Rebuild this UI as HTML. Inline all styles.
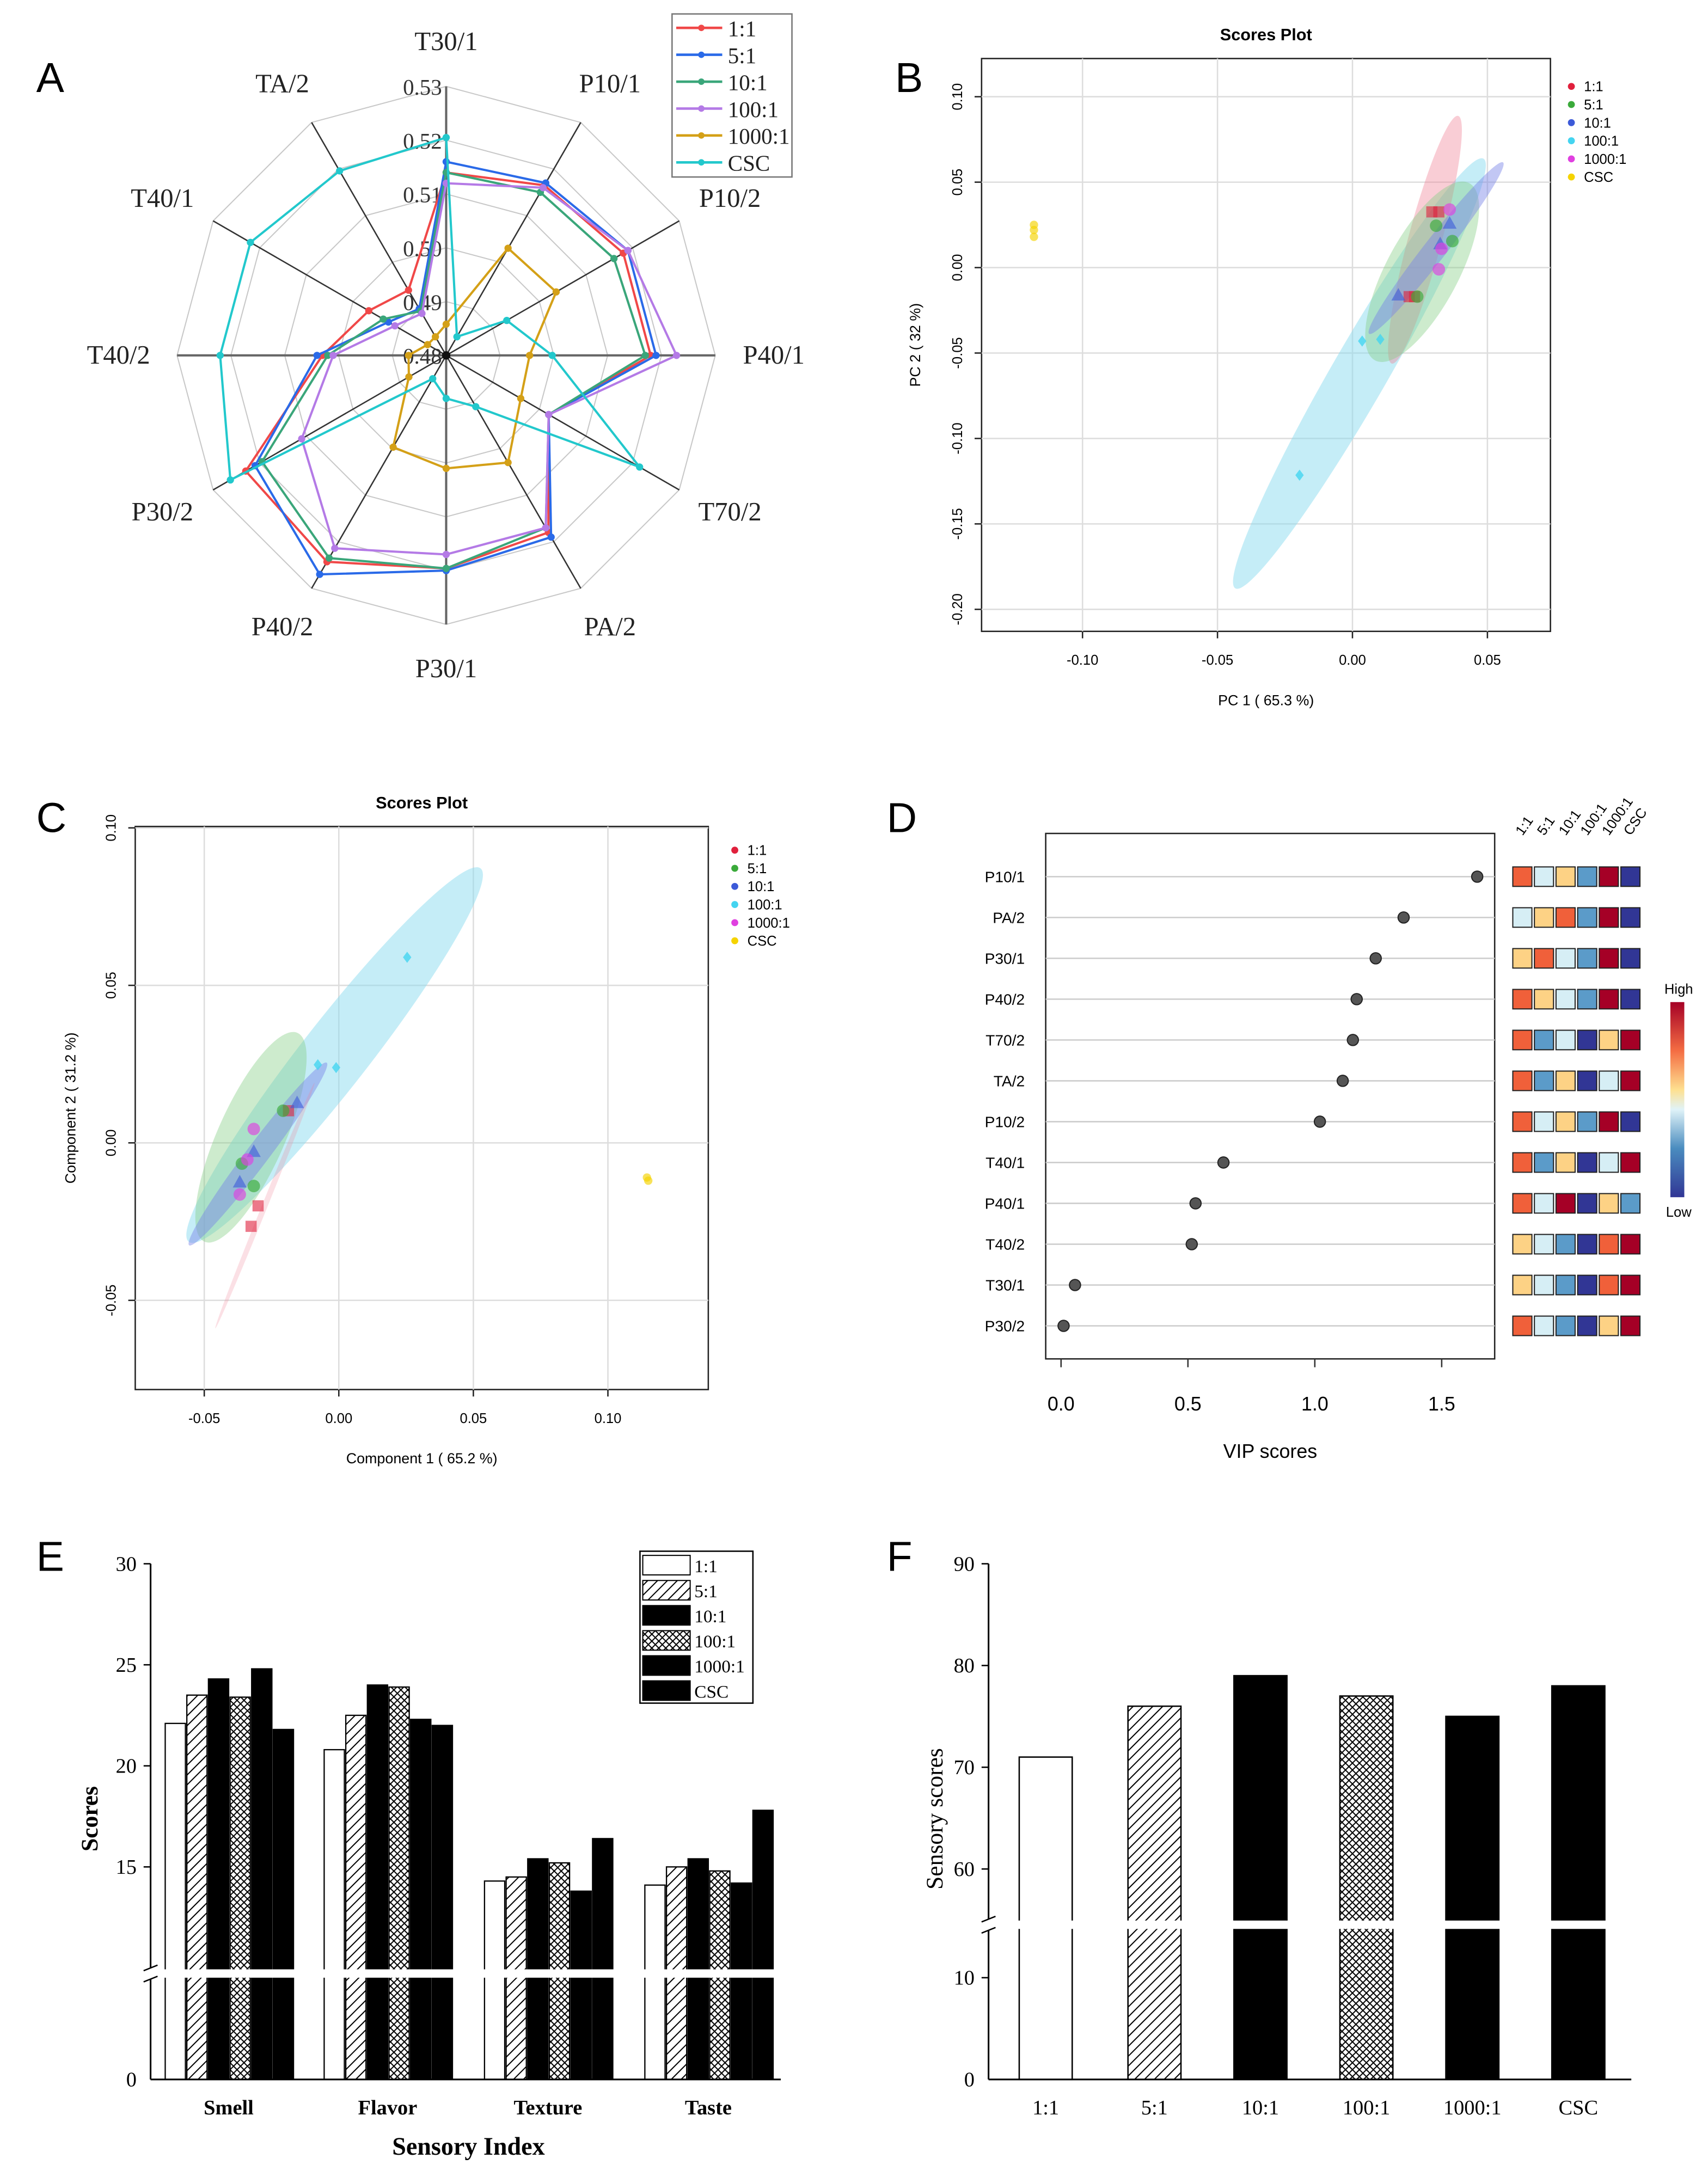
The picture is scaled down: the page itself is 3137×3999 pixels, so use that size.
<!DOCTYPE html>
<html><head><meta charset="utf-8">
<style>
html,body{margin:0;padding:0;background:#fff;}
svg{display:block;}
.serif{font-family:"Liberation Serif",serif;}
.sans{font-family:"Liberation Sans",sans-serif;}
</style></head>
<body>
<svg id="fig" xmlns="http://www.w3.org/2000/svg" width="3137" height="3999" viewBox="0 0 1225 1562" preserveAspectRatio="none">
<defs>
<pattern id="hatch" patternUnits="userSpaceOnUse" width="5" height="5" patternTransform="rotate(45)"><rect width="5" height="5" fill="#fff"/><line x1="0" y1="0" x2="0" y2="5" stroke="#000" stroke-width="1.6"/></pattern>
<pattern id="cross" patternUnits="userSpaceOnUse" width="5" height="5"><rect width="5" height="5" fill="#fff"/><path d="M0,0L5,5M5,0L0,5" stroke="#000" stroke-width="0.8"/></pattern>
<linearGradient id="cbar" x1="0" y1="0" x2="0" y2="1"><stop offset="0" stop-color="#a50026"/><stop offset="0.25" stop-color="#f46d43"/><stop offset="0.45" stop-color="#fee090"/><stop offset="0.55" stop-color="#e0f3f8"/><stop offset="0.75" stop-color="#4a8cbf"/><stop offset="1" stop-color="#313695"/></linearGradient>
</defs>
<g class="sans" font-size="30">
<text x="26" y="66">A</text>
<text x="642" y="66">B</text>
<text x="26" y="597">C</text>
<text x="636" y="597">D</text>
<text x="26" y="1127">E</text>
<text x="636" y="1127">F</text>
</g>
<g id="pA"></g>
<g id="pB"></g>
<g id="pC"></g>
<g id="pD"></g>
<g id="pE"></g>
<g id="pF"></g>
</svg>
<script>
// ---------- DATA ----------
const radarAxes=["T30/1","P10/1","P10/2","P40/1","T70/2","PA/2","P30/1","P40/2","P30/2","T40/2","T40/1","TA/2"];
const radarTicks=["0.48","0.49","0.50","0.51","0.52","0.53"];
const seriesNames=["1:1","5:1","10:1","100:1","1000:1","CSC"];
const r11=[0.514,0.5165,0.518,0.518,0.502,0.518,0.5196,0.5243,0.523,0.503,0.4966,0.494];
const r51=[0.516,0.517,0.519,0.519,0.502,0.519,0.520,0.527,0.521,0.504,0.4924,0.490];
const r101=[0.514,0.515,0.516,0.517,0.502,0.517,0.5196,0.5235,0.5195,0.502,0.4935,0.4895];
const r1001=[0.512,0.516,0.519,0.5228,0.502,0.517,0.517,0.5214,0.511,0.501,0.491,0.489];
const r10001=[0.4858,0.503,0.5036,0.4955,0.496,0.503,0.501,0.4997,0.488,0.487,0.484,0.484];
const rCSC=[0.5205,0.484,0.493,0.4997,0.5215,0.491,0.488,0.485,0.5263,0.522,0.522,0.5196];

const bX11=[0.0294,0.032,0.021,0.023], bY11=[0.0326,0.0326,-0.017,-0.017];
const bX51=[0.031,0.037,0.024], bY51=[0.0245,0.0155,-0.017];
const bX101=[0.036,0.0325,0.017], bY101=[0.026,0.014,-0.016];
const bX1001=[0.0036,0.0103,-0.0196], bY1001=[-0.043,-0.042,-0.1215];
const bX10001=[0.036,0.033,0.032], bY10001=[0.034,0.011,-0.001];
const bXCSC=[-0.118,-0.118,-0.118], bYCSC=[0.025,0.022,0.018];
const bXTicks=[-0.10,-0.05,0.00,0.05], bYTicks=[0.10,0.05,0.00,-0.05,-0.10,-0.15,-0.20];

const cX11=[-0.0187,-0.030,-0.0326], cY11=[0.0102,-0.020,-0.0265];
const cX51=[-0.0207,-0.0316,-0.036], cY51=[0.0102,-0.0137,-0.0066];
const cX101=[-0.0155,-0.0316,-0.0368], cY101=[0.0128,-0.0027,-0.0124];
const cX1001=[0.0254,-0.0078,-0.001], cY1001=[0.0589,0.0248,0.0239];
const cX10001=[-0.0316,-0.034,-0.0368], cY10001=[0.0044,-0.0053,-0.0164];
const cXCSC=[0.115,0.1145], cYCSC=[-0.012,-0.011];
const cXTicks=[-0.05,0.00,0.05,0.10], cYTicks=[0.10,0.05,0.00,-0.05];

const vipFeatures=["P10/1","PA/2","P30/1","P40/2","T70/2","TA/2","P10/2","T40/1","P40/1","T40/2","T30/1","P30/2"];
const vipValues=[1.64,1.35,1.24,1.165,1.15,1.11,1.02,0.64,0.53,0.515,0.055,0.01];
const vipTicks=[0.0,0.5,1.0,1.5];
const heatLevels=[[4,2,3,1,5,0],[2,3,4,1,5,0],[3,4,2,1,5,0],[4,3,2,1,5,0],[4,1,2,0,3,5],[4,1,3,0,2,5],[4,2,3,1,5,0],[4,1,3,0,2,5],[4,2,5,0,3,1],[3,2,1,0,4,5],[3,2,1,0,4,5],[4,2,1,0,3,5]];

const eCats=["Smell","Flavor","Texture","Taste"];
const e11=[22.1,20.8,14.3,14.1];
const e51=[23.5,22.5,14.5,15.0];
const e101=[24.3,24.0,15.4,15.4];
const e1001=[23.4,23.9,15.2,14.8];
const e10001=[24.8,22.3,13.8,14.2];
const eCSC=[21.8,22.0,16.4,17.8];
const eTicks=[15,20,25,30];

const fCats=["1:1","5:1","10:1","100:1","1000:1","CSC"];
const fValues=[71,76,79,77,75,78];
const fTicksUpper=[60,70,80,90];

// ---------- helpers ----------
const NS="http://www.w3.org/2000/svg";
function mk(tag,attrs,parent,txt){const e=document.createElementNS(NS,tag);for(const k in attrs)e.setAttribute(k,attrs[k]);if(txt!==undefined)e.textContent=txt;parent.appendChild(e);return e;}

// ---------- Panel A radar ----------
(function(){
const g=document.getElementById('pA');
const cx=320,cy=255,R=193,vmin=0.48,vmax=0.53;
const ang=i=>(-90+30*i)*Math.PI/180;
const rs=v=>(v-vmin)/(vmax-vmin)*R;
const pt=(i,v)=>[cx+rs(v)*Math.cos(ang(i)),cy+rs(v)*Math.sin(ang(i))];
radarTicks.forEach((t,k)=>{const v=+t;if(k===0)return;
 const pts=radarAxes.map((a,i)=>pt(i,v).join(',')).join(' ');
 const e=mk('polygon',{points:pts,fill:'none',stroke:'#c8c8c8','stroke-width':0.8},g);
 
 });
radarAxes.forEach((a,i)=>{const p=pt(i,vmax);
 const e=mk('line',{x1:cx,y1:cy,x2:p[0],y2:p[1],stroke:(i%3===0)?'#666':'#333','stroke-width':(i%3===0)?1.6:1},g);
 
 
 const lrx=R+42,lry=R+32;const lx=cx+lrx*Math.cos(ang(i)),ly=cy+lry*Math.sin(ang(i))+6;
 const t=mk('text',{x:lx,y:ly,'text-anchor':'middle','font-size':19,class:'serif',fill:'#222'},g,a);
 
 });
radarTicks.forEach(t=>{const y=cy-rs(+t);
 const e=mk('text',{x:303,y:y+6,'text-anchor':'middle','font-size':16,class:'serif',fill:'#333'},g,t);
 
 });
const cols=['#f04848','#2a6ae8','#3aa67a','#b47ae6','#d4a017','#22c8cc'];
const data=[r11,r51,r101,r1001,r10001,rCSC];
data.forEach((s,k)=>{const pts=s.map((v,i)=>pt(i,v));
 const e=mk('polygon',{points:pts.map(p=>p.join(',')).join(' '),fill:'none',stroke:cols[k],'stroke-width':1.6},g);
 
 
 pts.forEach(p=>{const m=mk('circle',{cx:p[0],cy:p[1],r:2.6,fill:cols[k]},g);
  
  });});
mk('circle',{cx:cx,cy:cy,r:3,fill:'#111'},g);
const lg=mk('g',{},g);


mk('rect',{x:482,y:10,width:86,height:117,fill:'#fff',stroke:'#777','stroke-width':1},lg);
seriesNames.forEach((n,k)=>{const y=20+k*19.3;
 mk('line',{x1:485,y1:y,x2:518,y2:y,stroke:cols[k],'stroke-width':1.8},lg);
 mk('circle',{cx:503,cy:y,r:2.3,fill:cols[k]},lg);
 const t=mk('text',{x:522,y:y+6,'font-size':16,class:'serif',fill:'#222'},lg,n);
 
 });
})();

// ---------- scatter helper ----------
const scCols=['#e0203c','#3aaa3a','#3c5ad8','#44d4f0','#e040e0','#f5d300'];
function scatterPanel(id,frame,xs,ys,xTicks,yTicks,sets,ells,title,xl,yl,legX,legY,rotY){
 const g=document.getElementById(id);
 const [x0,y0,x1,y1]=frame;
 mk('rect',{x:x0,y:y0,width:x1-x0,height:y1-y0,fill:'#fff',stroke:'#222','stroke-width':1},g);
 xTicks.forEach(t=>{const x=xs(t);
  const l=mk('line',{x1:x,y1:y0,x2:x,y2:y1,stroke:'#ddd','stroke-width':1},g);
  
  
  mk('line',{x1:x,y1:y1,x2:x,y2:y1+5,stroke:'#222'},g);
  const e=mk('text',{x:x,y:y1+24,'text-anchor':'middle','font-size':10,class:'sans'},g,t.toFixed(2));
  
  });
 yTicks.forEach(t=>{const y=ys(t);
  const l=mk('line',{x1:x0,y1:y,x2:x1,y2:y,stroke:'#ddd','stroke-width':1},g);
  
  
  mk('line',{x1:x0-5,y1:y,x2:x0,y2:y,stroke:'#222'},g);
  const e=mk('text',{x:x0-14,y:y,'text-anchor':'middle','font-size':10,class:'sans',transform:`rotate(-90 ${x0-14} ${y})`},g,t.toFixed(2));
  
  });
 ells.forEach(el=>{const e=mk('ellipse',{cx:el[0],cy:el[1],rx:el[2],ry:el[3],fill:el[5],transform:`rotate(${el[4]} ${el[0]} ${el[1]})`},g);
  
  });
 sets.forEach((s,k)=>{s[0].forEach((xv,i)=>{const x=xs(xv),y=ys(s[1][i]);let m;
  if(k===0)m=mk('rect',{x:x-4,y:y-4,width:8,height:8,fill:scCols[0],opacity:0.6},g);
  else if(k===2)m=mk('polygon',{points:`${x},${y-5} ${x-5},${y+4} ${x+5},${y+4}`,fill:scCols[2],opacity:0.6},g);
  else if(k===3)m=mk('polygon',{points:`${x},${y-4} ${x+3},${y} ${x},${y+4} ${x-3},${y}`,fill:scCols[3],opacity:0.8},g);
  else m=mk('circle',{cx:x,cy:y,r:(k===5?3:4.5),fill:scCols[k],opacity:0.65},g);
  
  });});
 const t=mk('text',{x:(x0+x1)/2,y:y0-13,'text-anchor':'middle','font-size':12,'font-weight':'bold',class:'sans'},g,title);
 
 
 const xt=mk('text',{x:(x0+x1)/2,y:y1+53,'text-anchor':'middle','font-size':10.5,class:'sans'},g,xl);
 
 
 const yt=mk('text',{x:rotY,y:(y0+y1)/2,'text-anchor':'middle','font-size':10.5,class:'sans',transform:`rotate(-90 ${rotY} ${(y0+y1)/2})`},g,yl);
 
 
 seriesNames.forEach((n,k)=>{const y=legY+k*13;
  mk('circle',{cx:legX,cy:y,r:2.5,fill:scCols[k]},g);
  const e=mk('text',{x:legX+9,y:y+3.5,'font-size':10,class:'sans'},g,n);
  
  });
}
scatterPanel('pB',[704,42,1112,453],v=>970+v/0.05*96.8,v=>192-v/0.05*61.3,bXTicks,bYTicks,
 [[bX11,bY11],[bX51,bY51],[bX101,bY101],[bX1001,bY1001],[bX10001,bY10001],[bXCSC,bYCSC]],
 [[975,268,178,20,-60,'rgba(140,220,240,0.5)'],[1022,172,92,12,-75,'rgba(240,130,150,0.4)'],[1020,195,72,26,-62,'rgba(130,205,130,0.4)'],[1030,178,78,8,-52,'rgba(120,130,230,0.45)']],
 'Scores Plot','PC 1 ( 65.3 %)','PC 2 ( 32 %)',1127,62,660);
scatterPanel('pC',[97,593,508,997],v=>243+v/0.05*96.5,v=>820-v/0.05*113,cXTicks,cYTicks,
 [[cX11,cY11],[cX51,cY51],[cX101,cY101],[cX1001,cY1001],[cX10001,cY10001],[cXCSC,cYCSC]],
 [[240,757,170,24,-52,'rgba(140,220,240,0.5)'],[180,816,82,24,-66,'rgba(130,205,130,0.4)'],[185,828,82,8,-53,'rgba(120,130,230,0.45)'],[190,865,95,2,-68,'rgba(240,130,150,0.25)']],
 'Scores Plot','Component 1 ( 65.2 %)','Component 2 ( 31.2 %)',527,610,54);

// ---------- Panel D VIP ----------
(function(){
const g=document.getElementById('pD');
const x0=750,x1=1072,y0=598,y1=975;
const xs=v=>761+v*182;
const yRow=i=>629+i*29.3;
mk('rect',{x:x0,y:y0,width:x1-x0,height:y1-y0,fill:'#fff',stroke:'#222','stroke-width':1},g);
vipTicks.forEach(t=>{const x=xs(t);mk('line',{x1:x,y1:y1,x2:x,y2:y1+6,stroke:'#333'},g);
 const e=mk('text',{x:x,y:y1+37,'text-anchor':'middle','font-size':14,class:'sans'},g,t.toFixed(1));
 
 });
const xt=mk('text',{x:911,y:1046,'text-anchor':'middle','font-size':14,class:'sans'},g,'VIP scores');


const hc=['#313695','#5b9bc9','#d6eef5','#fdd285','#f0603a','#a50026'];
vipFeatures.forEach((f,i)=>{const y=yRow(i);
 mk('line',{x1:x0,y1:y,x2:x1,y2:y,stroke:'#ccc','stroke-width':1},g);
 const t=mk('text',{x:735,y:y+4,'text-anchor':'end','font-size':11,class:'sans'},g,f);
 
 
 const c=mk('circle',{cx:xs(vipValues[i]),cy:y,r:4,fill:'#555',stroke:'#222','stroke-width':0.8},g);
 
 
 heatLevels[i].forEach((lv,j)=>{const r=mk('rect',{x:1085+j*15.5,y:y-7,width:13.7,height:14,fill:hc[lv],stroke:'#222','stroke-width':0.8},g);
  
  });});
seriesNames.forEach((n,j)=>{const x=1092+j*15.5,y=600;
 const t=mk('text',{x:x,y:y,'font-size':10,class:'sans',transform:`rotate(-55 ${x} ${y})`},g,n);
 
 });
const cb=mk('rect',{x:1198,y:719,width:10,height:140,fill:'url(#cbar)'},g);


mk('text',{x:1204,y:713,'text-anchor':'middle','font-size':10,class:'sans'},g,'High');
mk('text',{x:1204,y:873,'text-anchor':'middle','font-size':10,class:'sans'},g,'Low');
})();

// ---------- Panel E ----------
(function(){
const g=document.getElementById('pE');
const ys=v=>1339.5-(v-15)*14.5, base=1492, ax=108;
const fills=['#fff','url(#hatch)','#000','url(#cross)','#000','#000'];
const series=[e11,e51,e101,e1001,e10001,eCSC];
const gx=[164,278,393,508], bw=15.5;
eCats.forEach((c,i)=>{series.forEach((s,k)=>{const x=gx[i]-3*bw+k*bw+1;const y=ys(s[i]);
 const r=mk('rect',{x:x,y:y,width:bw-1,height:base-y,fill:fills[k],stroke:'#000','stroke-width':0.9},g);
 
 });
 const t=mk('text',{x:gx[i],y:1517,'text-anchor':'middle','font-size':15,'font-weight':'bold',class:'serif'},g,c);
 
 });
mk('rect',{x:ax+2,y:1413,width:460,height:6,fill:'#fff'},g);
mk('line',{x1:ax,y1:1122,x2:ax,y2:1412,stroke:'#000','stroke-width':1.2},g);
mk('line',{x1:ax,y1:1420,x2:ax,y2:base,stroke:'#000','stroke-width':1.2},g);
mk('line',{x1:ax-5,y1:1414,x2:ax+5,y2:1410,stroke:'#000'},g);
mk('line',{x1:ax-5,y1:1422,x2:ax+5,y2:1418,stroke:'#000'},g);
mk('line',{x1:ax,y1:base,x2:560,y2:base,stroke:'#000','stroke-width':1.2},g);
eTicks.forEach(t=>{const y=ys(t);mk('line',{x1:ax-5,y1:y,x2:ax,y2:y,stroke:'#000'},g);
 const e=mk('text',{x:ax-10,y:y+5,'text-anchor':'end','font-size':15,class:'serif'},g,String(t));
 
 });
mk('text',{x:ax-10,y:base+5,'text-anchor':'end','font-size':15,class:'serif'},g,'0');
const yt=mk('text',{x:70,y:1305,'text-anchor':'middle','font-size':17,'font-weight':'bold',class:'serif',transform:'rotate(-90 70 1305)'},g,'Scores');


const xt=mk('text',{x:336,y:1546,'text-anchor':'middle','font-size':18,'font-weight':'bold',class:'serif'},g,'Sensory Index');


mk('rect',{x:459,y:1113,width:81,height:109,fill:'#fff',stroke:'#000','stroke-width':1},g);
seriesNames.forEach((n,k)=>{const y=1114+k*18;
 mk('rect',{x:461,y:y+2,width:34,height:14,fill:fills[k],stroke:'#000','stroke-width':0.8},g);
 const t=mk('text',{x:498,y:y+14,'font-size':13,class:'serif'},g,n);
 
 });
})();

// ---------- Panel F ----------
(function(){
const g=document.getElementById('pF');
const ys=v=>1341-(v-60)*7.3, base=1492, ax=709;
const fills=['#fff','url(#hatch)','#000','url(#cross)','#000','#000'];
const cx=[750,828,904,980,1056,1132], bw=38;
fCats.forEach((c,i)=>{const y=ys(fValues[i]);
 const r=mk('rect',{x:cx[i]-bw/2,y:y,width:bw,height:base-y,fill:fills[i],stroke:'#000','stroke-width':1},g);
 
 
 const t=mk('text',{x:cx[i],y:1517,'text-anchor':'middle','font-size':15,class:'serif'},g,c);
 
 });
mk('rect',{x:ax+2,y:1378,width:460,height:6,fill:'#fff'},g);
mk('line',{x1:ax,y1:1122,x2:ax,y2:1377,stroke:'#000','stroke-width':1.2},g);
mk('line',{x1:ax,y1:1385,x2:ax,y2:base,stroke:'#000','stroke-width':1.2},g);
mk('line',{x1:ax-5,y1:1379,x2:ax+5,y2:1375,stroke:'#000'},g);
mk('line',{x1:ax-5,y1:1387,x2:ax+5,y2:1383,stroke:'#000'},g);
mk('line',{x1:ax,y1:base,x2:1170,y2:base,stroke:'#000','stroke-width':1.2},g);
fTicksUpper.forEach(t=>{const y=ys(t);mk('line',{x1:ax-5,y1:y,x2:ax,y2:y,stroke:'#000'},g);
 const e=mk('text',{x:ax-10,y:y+5,'text-anchor':'end','font-size':15,class:'serif'},g,String(t));
 
 });
mk('line',{x1:ax-5,y1:1419,x2:ax,y2:1419,stroke:'#000'},g);
mk('text',{x:ax-10,y:1424,'text-anchor':'end','font-size':15,class:'serif'},g,'10');
mk('text',{x:ax-10,y:base+5,'text-anchor':'end','font-size':15,class:'serif'},g,'0');
const yt=mk('text',{x:676,y:1305,'text-anchor':'middle','font-size':17,class:'serif',transform:'rotate(-90 676 1305)'},g,'Sensory scores');


})();
</script>
</body></html>
